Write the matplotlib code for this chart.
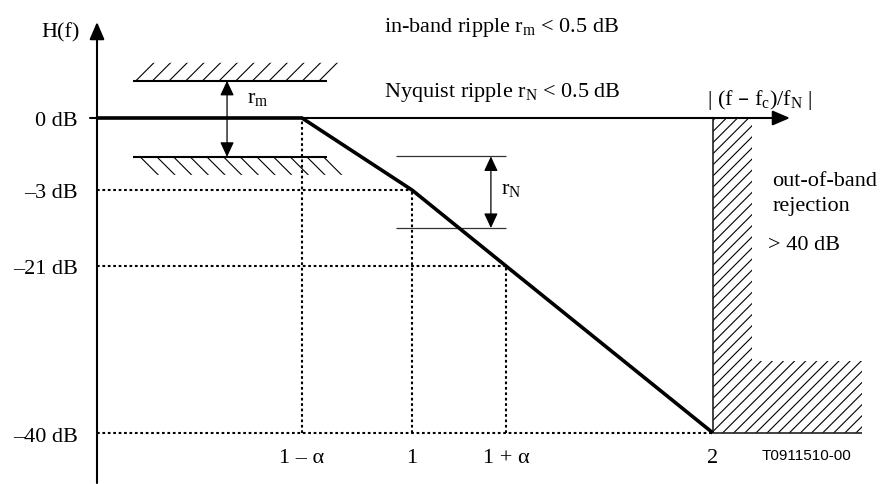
import numpy as np
import matplotlib
matplotlib.use("Agg")
import matplotlib.pyplot as plt
from matplotlib.patches import Polygon
import matplotlib.transforms as mtrans

plt.rcParams['font.family'] = ['Liberation Serif', 'DejaVu Serif']
plt.rcParams['mathtext.default'] = 'regular'
plt.rcParams['hatch.linewidth'] = 0.8

# ---------------- data (schematic values) ----------------
alpha = 0.33
x_ticks = [1 - alpha, 1, 1 + alpha, 2]
x_tick_labels = ['1 \u2013 \u03b1', '1', '1 + \u03b1', '2']
y_levels_db = [0, -3, -21, -40]
y_level_labels = ['0 dB', '\u20133 dB', '\u201321 dB', '\u201340 dB']
mask_x = [0, 1 - alpha, 1, 1 + alpha, 2]
mask_db = [0, 0, -3, -21, -40]
ripple_m_x = [0.118, 0.745]
ripple_m_db = [1.55, -1.62]
ripple_m_arrow_x = 0.425
ripple_n_x = [0.952, 1 + alpha]
ripple_n_db = [-1.6, -12]
ripple_n_arrow_x = 1.277
oob_x = [2, 2.13, 2.495]
oob_db = [0, -31.8, -40]

# ---------------- schematic (non-linear) scales ----------------
W, H = 887, 484
xa_v = [-1, 0, 1 - alpha, 1, 1 + alpha, 2, 4]
xa_p = [-209, 97, 302, 412, 506, 713, 1315]
ya_v = [-80, -40, -21, -3, 0, 20]
ya_p = [-785, -433, -266, -190, -118, 362]

def fx(v): return np.interp(v, xa_v, xa_p)
def ix(p): return np.interp(p, xa_p, xa_v)
def fy(v): return np.interp(v, ya_v, ya_p)
def iy(p): return np.interp(p, ya_p, ya_v)

fig = plt.figure(figsize=(W / 100, H / 100), dpi=100)
ax = fig.add_axes([0, 0, 1, 1])
ax.set_axis_off()
ax.set_xscale('function', functions=(fx, ix))
ax.set_yscale('function', functions=(fy, iy))
ax.set_xlim(float(ix(0)), float(ix(W)))
ax.set_ylim(float(iy(-H)), float(iy(0)))

T_xd = mtrans.blended_transform_factory(ax.transData, ax.transAxes)
T_yd = mtrans.blended_transform_factory(ax.transAxes, ax.transData)

def shift_x(v, p): return float(ix(fx(v) + p))
def shift_y(v, p): return float(iy(fy(v) + p))

K = 'black'
FS = 16

# axes with arrows
ax.annotate('', xy=(0, 1 - 22 / H), xytext=(0, 1 - 483 / H),
            xycoords=T_xd, textcoords=T_xd,
            arrowprops=dict(arrowstyle='-|>,head_length=0.7,head_width=0.3',
                            mutation_scale=15, lw=1.5, color=K, shrinkA=0, shrinkB=0))
ax.annotate('', xy=(790 / W, 0), xytext=(90 / W, 0),
            xycoords=T_yd, textcoords=T_yd,
            arrowprops=dict(arrowstyle='-|>,head_length=0.7,head_width=0.3',
                            mutation_scale=15, lw=1.5, color=K, shrinkA=0, shrinkB=0))

# dotted guides
dot = (0, (1.3, 1.3))
for x, db in zip(mask_x[1:-1], mask_db[1:-1]):
    ax.vlines(x, y_levels_db[-1], db, colors=K, lw=1.5, linestyles=dot)
for x, db in zip(mask_x[2:], mask_db[2:]):
    ax.hlines(db, 0, x, colors=K, lw=1.5, linestyles=dot)

# mask line
ax.plot(mask_x, mask_db, color=K, lw=2.6, solid_joinstyle='miter', solid_capstyle='butt', zorder=5)

# in-band ripple bars
hx = 18
x0, x1 = ripple_m_x
hi, lo = ripple_m_db
ax.hlines([hi, lo], x0, x1, colors=K, lw=1.5)
top = shift_y(hi, hx)
ax.add_patch(Polygon([(x0, hi), (x1, hi), (shift_x(x1, hx), top), (shift_x(x0, hx), top)],
                     closed=True, fill=False, hatch='//', edgecolor=K, lw=0))
bot = shift_y(lo, -hx)
ax.add_patch(Polygon([(x0, lo), (x1, lo), (shift_x(x1, hx), bot), (shift_x(x0, hx), bot)],
                     closed=True, fill=False, hatch='\\\\', edgecolor=K, lw=0))
ax.annotate('', xy=(ripple_m_arrow_x, hi), xytext=(ripple_m_arrow_x, lo),
            arrowprops=dict(arrowstyle='<|-|>,head_length=0.6,head_width=0.28',
                            mutation_scale=15, lw=0.9, color=K, shrinkA=0, shrinkB=0))

# Nyquist ripple
nx0, nx1 = ripple_n_x
ax.hlines(ripple_n_db, nx0, nx1, colors='#333333', lw=0.9)
ax.annotate('', xy=(ripple_n_arrow_x, ripple_n_db[0]), xytext=(ripple_n_arrow_x, ripple_n_db[1]),
            arrowprops=dict(arrowstyle='<|-|>,head_length=0.6,head_width=0.28',
                            mutation_scale=15, lw=0.9, color=K, shrinkA=0, shrinkB=0))

# out-of-band rejection region
ox0, ox1, ox2 = oob_x
d0, d1, d2 = oob_db
ax.add_patch(Polygon([(ox0, d0), (ox1, d0), (ox1, d1), (ox2, d1), (ox2, d2), (ox0, d2)],
                     closed=True, fill=False, hatch='///', edgecolor=K, lw=0))
ax.vlines(ox0, d2, d0, colors='#222222', lw=1.2)
ax.hlines(d2, ox0, ox2, colors='#222222', lw=1.2)

# tick labels
off_y = mtrans.ScaledTranslation(0, -8.5 / 100, fig.dpi_scale_trans)
for db, lab in zip(y_levels_db, y_level_labels):
    ax.text(78 / W, db, lab, transform=T_yd + off_y, ha='right', va='baseline', fontsize=FS)
for x, lab in zip(x_ticks, x_tick_labels):
    ax.text(x, 1 - 463 / H, lab, transform=T_xd, ha='center', va='baseline', fontsize=FS)

def ptext(px, py, s, **kw):
    kw.setdefault('fontsize', FS)
    kw.setdefault('va', 'baseline')
    ax.text(px / W, 1 - py / H, s, transform=ax.transAxes, **kw)

ptext(80, 37, 'H(f)', ha='right')
ptext(384, 32, 'in-band ripple r$_{m}$ < 0.5 dB')
ptext(384, 97, 'Nyquist ripple r$_{N}$ < 0.5 dB')
ptext(760, 105, '| (f \u2013 f$_{c}$)/f$_{N}$ |', ha='center')
ptext(247, 103, 'r$_{m}$')
ptext(501, 194, 'r$_{N}$')
ptext(772, 186, 'out-of-band')
ptext(773, 211, 'rejection')
ptext(768, 250, '> 40 dB')
ptext(807, 460, 'T0911510-00', ha='center', fontsize=11, family=['Liberation Sans', 'DejaVu Sans'])

fig.savefig('out.png', dpi=100)
